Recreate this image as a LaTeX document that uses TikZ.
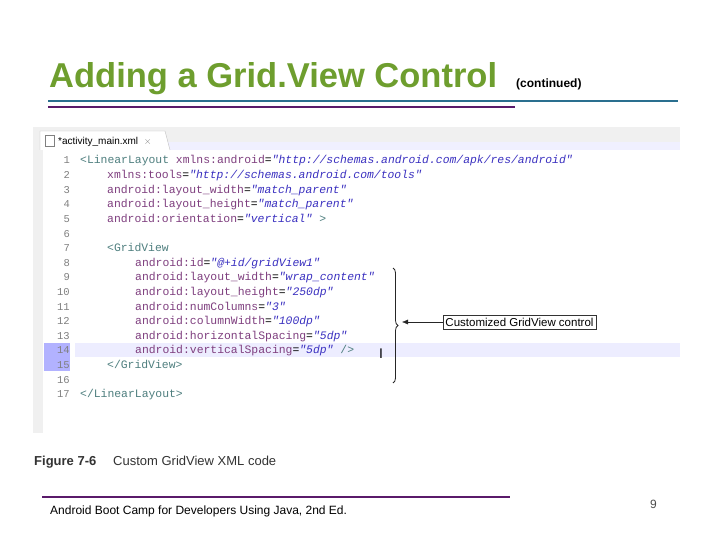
\documentclass[tikz,border=0pt]{standalone}
\usepackage{fontspec}
\setmainfont{Liberation Sans}
\newfontfamily\codefont{Liberation Mono}
\usetikzlibrary{decorations.pathreplacing,arrows.meta}
\definecolor{titlegreen}{HTML}{6E9E2E}
\definecolor{tealline}{HTML}{2A6F8F}
\definecolor{purpline}{HTML}{5A1A6A}
\definecolor{tagc}{HTML}{4F7F7F}
\definecolor{attc}{HTML}{7F3F7F}
\definecolor{valc}{HTML}{3A30C0}
\definecolor{numc}{HTML}{808080}
\newcommand{\tg}[1]{\textcolor{tagc}{#1}}
\newcommand{\at}[1]{\textcolor{attc}{#1}}
\newcommand{\vl}[1]{\textcolor{valc}{\itshape #1}}
\begin{document}
\begin{tikzpicture}[x=1pt,y=-1pt,
  code/.style={anchor=base west,inner sep=0pt,font=\codefont\fontsize{11.4}{11.4}\selectfont},
  lnum/.style={anchor=base east,inner sep=0pt,text=numc,font=\codefont\fontsize{10.5}{10.5}\selectfont}]
\useasboundingbox (0,0) rectangle (720,540);
\fill[white] (0,0) rectangle (720,540);
% title
\node[anchor=base west,inner sep=0pt,text=titlegreen,font=\bfseries\fontsize{34.5}{34.5}\selectfont] (title) at (49,88) {Adding a Grid.View Control};
\node[anchor=base west,inner sep=0pt,font=\bfseries\fontsize{12}{12}\selectfont] (cont) at (516,88) {(continued)};
\draw[tealline,line width=1.5] (48,101) -- (678,101);
\draw[purpline,line width=1.5] (48,107) -- (515,107);
% screenshot
\fill[gray!12] (33,127) rectangle (680,433);
\fill[white] (43,150) rectangle (680,433);
\fill[blue!6] (43,142) rectangle (680,150);
\fill[white,draw=gray!50] (40,150) -- (40,131) -- (165,131) -- (170,150);
\node[anchor=base west,inner sep=0pt,font=\fontsize{10}{10}\selectfont] (tab) at (58,145) {*activity\_main.xml \ \textcolor{gray}{$\times$}};
\draw[gray] (45,135) rectangle (54,146);
\fill[blue!7] (75,343) rectangle (680,357);
\fill[blue!30] (44,343) rectangle (70,371);
% line numbers
\foreach \n in {1,...,17}{
  \node[lnum] (n\n) at (70,{164+(\n-1)*14.6}) {\n};
}
\node[code] (l1) at (80,164) {\tg{<LinearLayout} \at{xmlns:android}=\vl{"http://schemas.android.com/apk/res/android"}};
\node[code] (l2) at (107,178.6) {\at{xmlns:tools}=\vl{"http://schemas.android.com/tools"}};
\node[code] (l3) at (107,193.2) {\at{android:layout\_width}=\vl{"match\_parent"}};
\node[code] (l4) at (107,207.8) {\at{android:layout\_height}=\vl{"match\_parent"}};
\node[code] (l5) at (107,222.4) {\at{android:orientation}=\vl{"vertical"} \tg{>}};
\node[code] (l7) at (107,251.6) {\tg{<GridView}};
\node[code] (l8) at (135,266.2) {\at{android:id}=\vl{"@+id/gridView1"}};
\node[code] (l9) at (135,280.8) {\at{android:layout\_width}=\vl{"wrap\_content"}};
\node[code] (l10) at (135,295.4) {\at{android:layout\_height}=\vl{"250dp"}};
\node[code] (l11) at (135,310) {\at{android:numColumns}=\vl{"3"}};
\node[code] (l12) at (135,324.6) {\at{android:columnWidth}=\vl{"100dp"}};
\node[code] (l13) at (135,339.2) {\at{android:horizontalSpacing}=\vl{"5dp"}};
\node[code] (l14) at (135,353.8) {\at{android:verticalSpacing}=\vl{"5dp"} \tg{/>}};
\node[code] (l15) at (107,368.4) {\tg{</GridView>}};
\node[code] (l17) at (80,397.6) {\tg{</LinearLayout>}};
\node[inner sep=0pt,font=\fontsize{14}{14}\selectfont] (cur) at (381,354) {I};
% brace and callout
\coordinate (bt) at (393,268);
\coordinate (bb) at (393,383);
\draw[gray!30!black,line width=0.8,decorate,decoration={brace,amplitude=5pt}] (bt) -- (bb);
\node[draw=gray!40!black,inner sep=2.5pt,font=\fontsize{11.5}{11.5}\selectfont] (box) at (519.5,322) {Customized GridView control};
\coordinate (tip) at (402,322);
\draw[gray!30!black,-{Latex[length=6pt,width=5pt]}] (box.west) -- (tip);
% caption
\node[anchor=base west,inner sep=0pt,text=black!80,font=\bfseries\fontsize{13}{13}\selectfont] (fig) at (34,465) {Figure 7-6};
\node[anchor=base west,inner sep=0pt,text=black!80,font=\fontsize{13}{13}\selectfont] (cap) at (113,465) {Custom GridView XML code};
% footer
\draw[purpline,line width=1.5] (42,497) -- (510,497);
\node[anchor=base west,inner sep=0pt,font=\fontsize{12}{12}\selectfont] (foot) at (50,514) {Android Boot Camp for Developers Using Java, 2nd Ed.};
\node[anchor=base west,inner sep=0pt,text=black!70,font=\fontsize{12}{12}\selectfont] (pg) at (650,508) {9};
\end{tikzpicture}
\end{document}
